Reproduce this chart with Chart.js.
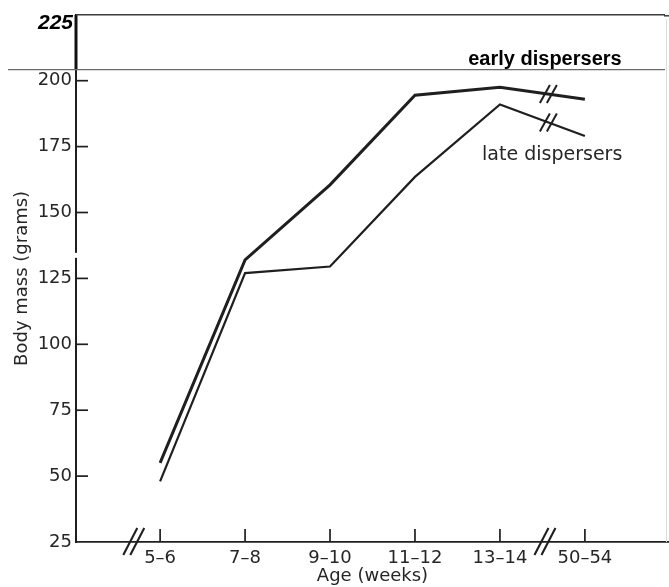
<!DOCTYPE html>
<html>
<head>
<meta charset="utf-8">
<title>Body mass of early and late dispersers</title>
<script src="https://cdn.jsdelivr.net/npm/chart.js@4.4.0/dist/chart.umd.min.js"></script>
<style>
  html, body { margin: 0; padding: 0; background: #fff; }
  #wrap { width: 669px; height: 587px; position: relative; }
</style>
</head>
<body>
<div id="wrap"><canvas id="massChart"></canvas></div>
<script>
// Age classes (weeks) and body mass (grams)
const ageLabels = ['5–6', '7–8', '9–10', '11–12', '13–14', '50–54'];
const earlyMass = [55, 132, 160.5, 194.5, 197.5, 193];
const lateMass = [48, 127, 129.5, 163.5, 191, 179];
const massTicks = [25, 50, 75, 100, 125, 150, 175, 200, 225];

const ink = '#1f1f1f';

function line(ctx, x1, y1, x2, y2) {
  ctx.beginPath();
  ctx.moveTo(x1, y1);
  ctx.lineTo(x2, y2);
  ctx.stroke();
}

// Draws the inward ticks, axis breaks, labels and the overlay frame
const decor = {
  id: 'decor',
  afterDraw(chart) {
    const ctx = chart.ctx;
    const xs = chart.scales.x;
    const ys = chart.scales.y;
    const area = chart.chartArea;
    ctx.save();
    ctx.strokeStyle = ink;
    ctx.lineWidth = 1.7;

    // inward tick marks
    massTicks.forEach(v => {
      if (v === 25 || v === 225) return;
      const py = ys.getPixelForValue(v);
      line(ctx, area.left, py, area.left + 12, py);
    });
    ageLabels.forEach((lbl, i) => {
      const px = xs.getPixelForValue(i);
      line(ctx, px, area.bottom, px, area.bottom - 13);
    });

    // small gap in the y axis
    ctx.fillStyle = '#fff';
    const g1 = ys.getPixelForValue(134.7), g2 = ys.getPixelForValue(132.8);
    ctx.fillRect(area.left - 3, g1, 6, g2 - g1);

    // x axis breaks
    ctx.lineWidth = 2.1;
    [-0.31, 4.53].forEach(v => {
      const cx = xs.getPixelForValue(v);
      [-3.5, 3.5].forEach(d => {
        line(ctx, cx + d - 7, area.bottom + 13, cx + d + 7, area.bottom - 14);
      });
    });

    // breaks on both lines between 13-14 and 50-54
    chart.data.datasets.forEach((ds, di) => {
      const pts = chart.getDatasetMeta(di).data;
      const a = pts[4], b = pts[5];
      const cx = xs.getPixelForValue(4.57);
      const t = (cx - a.x) / (b.x - a.x);
      const cy = a.y + t * (b.y - a.y);
      ctx.lineWidth = 2;
      [-3.5, 3.5].forEach(d => {
        line(ctx, cx + d - 5, cy + 9, cx + d + 5, cy - 9);
      });
    });

    // overlay frame at the top
    const yTop = area.top;
    const yRule = ys.getPixelForValue(204.2);
    ctx.strokeStyle = '#111';
    ctx.lineWidth = 3;
    line(ctx, area.left, yTop, area.left, yRule);
    ctx.strokeStyle = '#3a3a3a';
    ctx.lineWidth = 1.5;
    line(ctx, area.left, yTop, 665, yTop);
    line(ctx, 664, yTop + 1, 669, yTop + 1);
    ctx.strokeStyle = '#6a6a6a';
    ctx.lineWidth = 1.2;
    line(ctx, 8, yRule, 665, yRule);
    ctx.strokeStyle = '#dddddd';
    ctx.lineWidth = 1;
    line(ctx, 666.5, yTop + 4, 666.5, area.bottom);

    // top tick label
    ctx.fillStyle = '#000';
    ctx.font = 'italic bold 21px "Liberation Sans", Arial, sans-serif';
    ctx.textAlign = 'right';
    ctx.textBaseline = 'middle';
    ctx.fillText('225', area.left - 3, ys.getPixelForValue(225) + 8);

    // series labels
    ctx.textAlign = 'center';
    ctx.textBaseline = 'alphabetic';
    ctx.font = 'bold 20px "Liberation Sans", Arial, sans-serif';
    ctx.fillText('early dispersers', xs.getPixelForValue(4.53), ys.getPixelForValue(206));

    ctx.fillStyle = '#262626';
    ctx.textAlign = 'left';
    ctx.font = '19px "DejaVu Sans", sans-serif';
    ctx.fillText('late dispersers', xs.getPixelForValue(3.79), ys.getPixelForValue(170.1));
    ctx.restore();
  }
};

Chart.defaults.font.family = '"DejaVu Sans", sans-serif';
Chart.defaults.color = '#262626';

const massChart = new Chart(document.getElementById('massChart'), {
  type: 'line',
  data: {
    datasets: [{
      label: 'early dispersers',
      data: earlyMass.map((v, i) => ({ x: i, y: v })),
      borderColor: ink,
      borderWidth: 3,
      pointRadius: 0,
      tension: 0,
      fill: false
    }, {
      label: 'late dispersers',
      data: lateMass.map((v, i) => ({ x: i, y: v })),
      borderColor: ink,
      borderWidth: 2.2,
      pointRadius: 0,
      tension: 0,
      fill: false
    }]
  },
  options: {
    responsive: true,
    maintainAspectRatio: false,
    animation: false,
    layout: { padding: { top: 13, right: 0, bottom: 0, left: 0 } },
    plugins: {
      legend: { display: false },
      tooltip: { enabled: false }
    },
    scales: {
      x: {
        type: 'linear',
        min: -0.99,
        max: 5.99,
        afterBuildTicks: scale => {
          scale.ticks = ageLabels.map((lbl, i) => ({ value: i }));
        },
        afterFit: scale => { scale.height = 45; },
        ticks: {
          autoSkip: false,
          maxRotation: 0,
          padding: 6,
          font: { size: 18 },
          callback: value => ageLabels[value]
        },
        grid: { display: false, drawTicks: false },
        border: { display: true, color: ink, width: 1.8 },
        title: {
          display: true,
          text: 'Age (weeks)',
          font: { size: 18 },
          padding: { top: 0, bottom: 0 }
        }
      },
      y: {
        min: 25,
        max: 225,
        afterBuildTicks: scale => {
          scale.ticks = massTicks.map(v => ({ value: v }));
        },
        afterFit: scale => { scale.width = 76; },
        ticks: {
          padding: 4,
          font: { size: 18 },
          callback: value => (value === 225 ? '' : String(value))
        },
        grid: { display: false, drawTicks: false },
        border: { display: true, color: ink, width: 2 },
        title: {
          display: true,
          text: 'Body mass (grams)',
          font: { size: 18 },
          padding: { top: 12, bottom: 0 }
        }
      }
    }
  },
  plugins: [decor]
});
</script>
</body>
</html>
